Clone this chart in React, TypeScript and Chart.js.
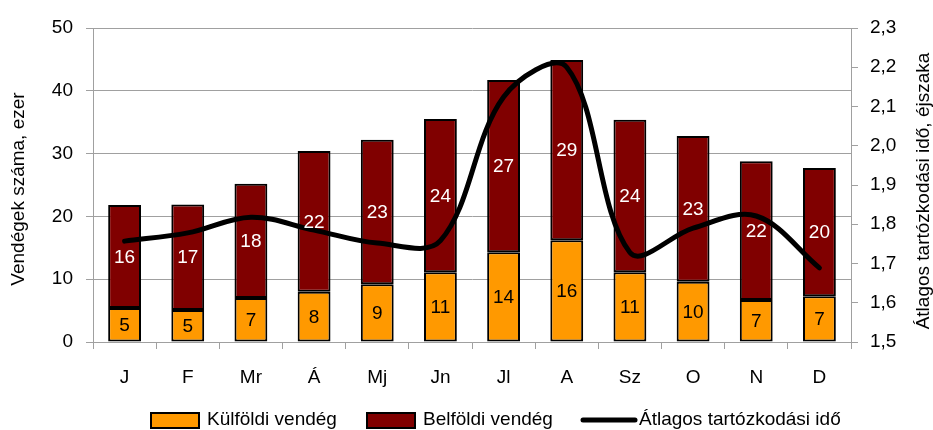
import React, { useEffect, useRef } from "react";
import { Chart, registerables } from "chart.js";

Chart.register(...registerables);

const months = ["J", "F", "Mr", "Á", "Mj", "Jn", "Jl", "A", "Sz", "O", "N", "D"];
const kulfoldi = [5.4, 5.1, 7.0, 8.0, 9.2, 11.1, 14.3, 16.2, 11.1, 9.6, 6.7, 7.3];
const belfoldi = [16.4, 16.8, 18.2, 22.4, 23.0, 24.4, 27.4, 28.7, 24.3, 23.2, 22.1, 20.4];
const atlagos = [1.757, 1.778, 1.818, 1.785, 1.752, 1.758, 2.124, 2.2, 1.728, 1.79, 1.821, 1.689];

const seriesNames = ["Külföldi vendég", "Belföldi vendég", "Átlagos tartózkodási idő"];
const leftTitle = "Vendégek száma, ezer";
const rightTitle = "Átlagos tartózkodási idő, éjszaka";

const FONT = "'Liberation Sans', Arial, sans-serif";
const FS = 19;
const GRID = "#a0a0a0";
const ORANGE = "#ff9900";
const DARKRED = "#800000";

const extras = {
  id: "extras",
  afterDatasetsDraw(chart: any) {
    const ctx = chart.ctx as CanvasRenderingContext2D;
    ctx.save();
    ctx.font = `${FS}px ${FONT}`;
    ctx.textAlign = "center";
    ctx.textBaseline = "middle";
    [0, 1].forEach((di) => {
      const meta = chart.getDatasetMeta(di);
      const data = chart.data.datasets[di].data as number[];
      meta.data.forEach((el: any, i: number) => {
        const p = el.getProps(["x", "y", "base"], true);
        const cy = (p.y + p.base) / 2;
        ctx.fillStyle = di === 0 ? "#000" : "#fff";
        ctx.fillText(String(Math.round(data[i])), p.x, cy + 1);
      });
    });
    ctx.restore();
  },
  afterDraw(chart: any) {
    const ctx = chart.ctx as CanvasRenderingContext2D;
    const area = chart.chartArea;
    ctx.save();
    ctx.font = `${FS}px ${FONT}`;
    ctx.fillStyle = "#000";
    ctx.textAlign = "center";
    ctx.textBaseline = "middle";
    // left title
    ctx.save();
    ctx.translate(19, 189);
    ctx.rotate(-Math.PI / 2);
    ctx.fillText(leftTitle, 0, 0);
    ctx.restore();
    // right title
    ctx.save();
    ctx.translate(924, 191);
    ctx.rotate(-Math.PI / 2);
    ctx.fillText(rightTitle, 0, 0);
    ctx.restore();
    // legend
    const ly = 420;
    ctx.textAlign = "left";
    ctx.lineWidth = 2;
    ctx.strokeStyle = "#000";
    ctx.fillStyle = ORANGE;
    ctx.fillRect(151, 413, 48, 15);
    ctx.strokeRect(151, 413, 48, 15);
    ctx.fillStyle = "#000";
    ctx.fillText(seriesNames[0], 207, ly);
    ctx.fillStyle = DARKRED;
    ctx.fillRect(367, 413, 48, 15);
    ctx.strokeRect(367, 413, 48, 15);
    ctx.fillStyle = "#000";
    ctx.fillText(seriesNames[1], 423, ly);
    ctx.lineWidth = 5;
    ctx.lineCap = "round";
    ctx.beginPath();
    ctx.moveTo(583, ly);
    ctx.lineTo(635, ly);
    ctx.stroke();
    ctx.fillText(seriesNames[2], 639, ly);
    void area;
    ctx.restore();
  },
};

export default function App() {
  const ref = useRef<HTMLCanvasElement>(null);
  useEffect(() => {
    document.body.style.margin = "0";
    const canvas = ref.current!;
    const tickFont = { family: FONT, size: FS };
    const chart = new Chart(canvas, {
      type: "bar",
      data: {
        labels: months,
        datasets: [
          {
            type: "bar",
            label: seriesNames[0],
            data: kulfoldi,
            backgroundColor: ORANGE,
            borderColor: "#000",
            borderWidth: 2,
            borderSkipped: false,
            yAxisID: "y",
            order: 1,
            barPercentage: 0.52,
            categoryPercentage: 1,
          },
          {
            type: "bar",
            label: seriesNames[1],
            data: belfoldi,
            backgroundColor: DARKRED,
            borderColor: "#000",
            borderWidth: 2,
            borderSkipped: false,
            yAxisID: "y",
            order: 1,
            barPercentage: 0.52,
            categoryPercentage: 1,
          },
          {
            type: "line",
            label: seriesNames[2],
            data: atlagos,
            borderColor: "#000",
            borderWidth: 5,
            pointRadius: 0,
            tension: 0.35,
            yAxisID: "y1",
            order: 0,
            borderCapStyle: "round",
            borderJoinStyle: "round",
          } as any,
        ],
      },
      options: {
        animation: false,
        responsive: false,
        devicePixelRatio: 1,
        layout: { padding: { top: 28, left: 0, right: 0, bottom: 0 } },
        plugins: { legend: { display: false }, tooltip: { enabled: false } },
        scales: {
          x: {
            stacked: true,
            grid: { offset: true, drawOnChartArea: false, drawTicks: true, tickLength: 7, color: GRID },
            border: { color: GRID, width: 1 },
            ticks: { color: "#000", font: tickFont, padding: 17, maxRotation: 0 },
            afterFit: (s: any) => { s.height = 88; },
          },
          y: {
            stacked: true,
            position: "left",
            min: 0,
            max: 50,
            grid: { color: GRID, tickLength: 7, lineWidth: 1 },
            border: { color: GRID, width: 1 },
            ticks: { stepSize: 10, color: "#000", font: tickFont, padding: 13 },
            afterFit: (s: any) => { s.width = 93; },
          },
          y1: {
            position: "right",
            min: 1.5,
            max: 2.3,
            grid: { drawOnChartArea: false, tickLength: 7, color: GRID },
            border: { color: GRID, width: 1 },
            ticks: {
              stepSize: 0.1,
              color: "#000",
              font: tickFont,
              padding: 12,
              callback: (v: any) => Number(v).toFixed(1).replace(".", ","),
            },
            afterFit: (s: any) => { s.width = 82; },
          },
        },
      },
      plugins: [extras],
    });
    return () => chart.destroy();
  }, []);
  return (
    <div style={{ width: 933, height: 430 }}>
      <canvas ref={ref} width={933} height={430} style={{ width: 933, height: 430, display: "block" }} />
    </div>
  );
}
